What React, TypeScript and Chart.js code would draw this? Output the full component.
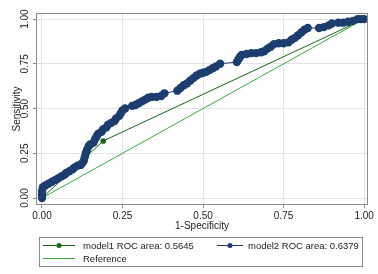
import React, { useEffect, useRef } from 'react';
import { Chart, registerables } from 'chart.js';

Chart.register(...registerables);

const axisTicks = [0, 0.25, 0.5, 0.75, 1];
const tickLabels = ['0.00', '0.25', '0.50', '0.75', '1.00'];
const xTitle = '1-Specificity';
const yTitle = 'Sensitivity';
const legendLabels = ['model1 ROC area: 0.5645', 'model2 ROC area: 0.6379', 'Reference'];

const model1Fpr = [0, 0.19, 1];
const model1Tpr = [0, 0.319, 1];

const model2Fpr = [
  0, 0, 0, 0.003, 0.01, 0.02, 0.03, 0.04, 0.05, 0.06, 0.07, 0.075, 0.085, 0.095, 0.1, 0.11, 0.12, 0.125,
  0.13, 0.133, 0.136, 0.14, 0.145, 0.15, 0.16, 0.165, 0.17, 0.175, 0.185, 0.19, 0.2, 0.205, 0.215, 0.225,
  0.23, 0.24, 0.245, 0.25, 0.258,
  0.28, 0.29, 0.3, 0.31, 0.32, 0.33, 0.34, 0.355, 0.37, 0.38,
  0.42, 0.43, 0.44, 0.45, 0.46, 0.47, 0.48, 0.49, 0.5, 0.51, 0.52, 0.53, 0.54, 0.553,
  0.605, 0.61, 0.615, 0.62, 0.635, 0.65, 0.665, 0.68, 0.69, 0.7, 0.71, 0.72, 0.735, 0.75, 0.765, 0.775,
  0.785, 0.795, 0.805, 0.815, 0.825,
  0.86, 0.875, 0.89, 0.9, 0.92, 0.935, 0.95, 0.965, 0.98, 0.99, 1,
];
const model2Tpr = [
  0, 0.02, 0.04, 0.06, 0.07, 0.08, 0.09, 0.1, 0.11, 0.12, 0.13, 0.14, 0.15, 0.16, 0.17, 0.18, 0.185, 0.195,
  0.21, 0.23, 0.25, 0.27, 0.29, 0.3, 0.31, 0.33, 0.345, 0.36, 0.37, 0.385, 0.395, 0.41, 0.42, 0.43,
  0.445, 0.46, 0.475, 0.49, 0.5,
  0.515, 0.52, 0.53, 0.54, 0.55, 0.56, 0.565, 0.565, 0.57, 0.585,
  0.6, 0.615, 0.63, 0.64, 0.655, 0.67, 0.685, 0.695, 0.7, 0.705, 0.715, 0.725, 0.735, 0.75,
  0.76, 0.775, 0.79, 0.8, 0.805, 0.81, 0.81, 0.815, 0.82, 0.835, 0.845, 0.86, 0.865, 0.865, 0.87, 0.885,
  0.895, 0.91, 0.925, 0.94, 0.95,
  0.95, 0.955, 0.965, 0.975, 0.98, 0.98, 0.985, 0.99, 1, 1, 1,
];

const refFpr = [0, 1];
const refTpr = [0, 1];

const NAVY = '#1c3d6e';
const DKGREEN = '#176617';
const GREEN = '#3cab3c';
const FONT = '"Liberation Sans", Arial, sans-serif';

const toPts = (xs: number[], ys: number[]) => xs.map((x, i) => ({ x, y: ys[i] }));

const framePlugin = {
  id: 'stataDecor',
  afterDraw(chart: any) {
    const { ctx, chartArea, scales } = chart;
    const ys = scales.y;
    ctx.save();
    ctx.strokeStyle = '#8c8c8c';
    ctx.lineWidth = 1;
    ctx.strokeRect(
      Math.round(chartArea.left) + 0.5,
      Math.round(chartArea.top) + 0.5,
      Math.round(chartArea.right - chartArea.left) - 1,
      Math.round(chartArea.bottom - chartArea.top) - 1
    );
    ctx.fillStyle = '#222';
    ctx.font = `10px ${FONT}`;
    ctx.textAlign = 'center';
    ctx.textBaseline = 'alphabetic';
    axisTicks.forEach((v, i) => {
      const py = ys.getPixelForValue(v);
      ctx.save();
      ctx.translate(28, py);
      ctx.rotate(-Math.PI / 2);
      ctx.fillText(tickLabels[i], 0, 0);
      ctx.restore();
    });
    ctx.save();
    ctx.translate(19.5, (chartArea.top + chartArea.bottom) / 2);
    ctx.rotate(-Math.PI / 2);
    ctx.fillText(yTitle, 0, 0);
    ctx.restore();
    ctx.fillText(xTitle, (chartArea.left + chartArea.right) / 2, 229);
    ctx.strokeStyle = '#8c8c8c';
    ctx.strokeRect(39.5, 237.5, 323, 29);
    ctx.font = `9.5px ${FONT}`;
    ctx.textAlign = 'left';
    ctx.textBaseline = 'middle';
    const row1 = 245;
    const row2 = 258;
    const drawItem = (x0: number, x1: number, y: number, color: string, dot: number, label: string, tx: number) => {
      ctx.strokeStyle = color;
      ctx.lineWidth = 1;
      ctx.beginPath();
      ctx.moveTo(x0, y + 0.5);
      ctx.lineTo(x1, y + 0.5);
      ctx.stroke();
      if (dot > 0) {
        ctx.fillStyle = color;
        ctx.beginPath();
        ctx.arc((x0 + x1) / 2, y + 0.5, dot, 0, Math.PI * 2);
        ctx.fill();
      }
      ctx.fillStyle = '#222';
      ctx.fillText(label, tx, y + 1);
    };
    drawItem(43, 75, row1, DKGREEN, 2.5, legendLabels[0], 83);
    drawItem(217, 243, row1, NAVY, 2.5, legendLabels[1], 248);
    drawItem(43, 75, row2, GREEN, 0, legendLabels[2], 83);
    ctx.restore();
  },
};

export default function App() {
  const ref = useRef<HTMLCanvasElement>(null);
  useEffect(() => {
    document.body.style.margin = '0';
    const canvas = ref.current!;
    const chart = new Chart(canvas, {
      type: 'scatter',
      data: {
        datasets: [
          {
            label: 'model2',
            data: toPts(model2Fpr, model2Tpr),
            showLine: true,
            borderColor: NAVY,
            borderWidth: 1,
            backgroundColor: NAVY,
            pointRadius: 4.2,
            pointBorderWidth: 0,
            order: 1,
          },
          {
            label: 'model1',
            data: toPts(model1Fpr, model1Tpr),
            showLine: true,
            borderColor: DKGREEN,
            borderWidth: 1,
            backgroundColor: DKGREEN,
            pointRadius: 2.8,
            pointBorderWidth: 0,
            order: 2,
          },
          {
            label: 'Reference',
            data: toPts(refFpr, refTpr),
            showLine: true,
            borderColor: GREEN,
            borderWidth: 1,
            pointRadius: 0,
            order: 3,
          },
        ],
      },
      options: {
        responsive: false,
        animation: false,
        layout: { padding: { top: 13, right: 10, left: 0, bottom: 0 } },
        plugins: { legend: { display: false }, tooltip: { enabled: false } },
        scales: {
          x: {
            type: 'linear',
            min: -0.0186,
            max: 1.012,
            afterBuildTicks: (s: any) => {
              s.ticks = axisTicks.map((v) => ({ value: v }));
            },
            afterFit: (s: any) => {
              s.height = 69;
            },
            ticks: {
              callback: (v: any) => {
                const i = axisTicks.indexOf(Number(v));
                return i >= 0 ? tickLabels[i] : '';
              },
              color: '#222',
              font: { family: FONT, size: 10 },
              padding: 2,
              maxRotation: 0,
              minRotation: 0,
            },
            grid: { color: '#e3e3e3', tickColor: '#8c8c8c', tickLength: 3, lineWidth: 1 },
            border: { display: false },
          },
          y: {
            type: 'linear',
            min: -0.039,
            max: 1.034,
            afterBuildTicks: (s: any) => {
              s.ticks = axisTicks.map((v) => ({ value: v }));
            },
            afterFit: (s: any) => {
              s.width = 36;
            },
            ticks: { display: false },
            grid: { color: '#e3e3e3', tickColor: '#8c8c8c', tickLength: 3, lineWidth: 1 },
            border: { display: false },
          },
        },
      },
      plugins: [framePlugin],
    });
    return () => chart.destroy();
  }, []);
  return (
    <div style={{ width: 378, height: 274, background: '#fff' }}>
      <canvas ref={ref} width={378} height={274} style={{ display: 'block', width: 378, height: 274 }} />
    </div>
  );
}
